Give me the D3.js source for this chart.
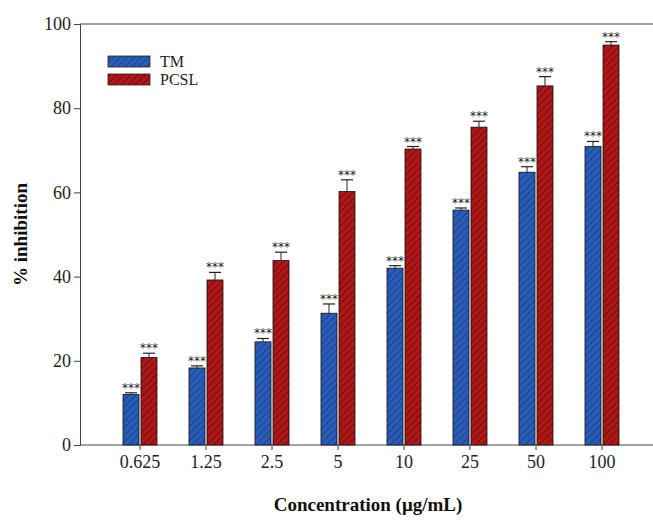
<!DOCTYPE html>
<html>
<head>
<meta charset="utf-8">
<script src="https://cdn.jsdelivr.net/npm/d3@7"></script>
<style>
  body { margin: 0; background: #fff; }
</style>
</head>
<body>
<script>
var width = 653, height = 523;
var serif = "Liberation Serif, Times New Roman, serif";

var categories = ["0.625", "1.25", "2.5", "5", "10", "25", "50", "100"];
var tmValues = [12.0, 18.3, 24.5, 31.3, 42.0, 55.8, 64.8, 70.9];
var tmErrors = [0.4, 0.5, 0.8, 2.2, 0.6, 0.5, 1.3, 1.2];
var pcslValues = [20.8, 39.2, 43.8, 60.2, 70.3, 75.5, 85.3, 95.0];
var pcslErrors = [1.0, 1.8, 2.0, 2.8, 0.6, 1.4, 2.2, 0.8];
var seriesNames = ["TM", "PCSL"];
var yTicks = [0, 20, 40, 60, 80, 100];

var margin = {left: 80, top: 24, bottom: 78};

var svg = d3.select("body")
    .append("svg")
    .attr("width", width)
    .attr("height", height)
    .attr("font-family", serif);

// hatch patterns
var defs = svg.append("defs");
function hatch(id, bg, fg) {
  var p = defs.append("pattern")
      .attr("id", id)
      .attr("patternUnits", "userSpaceOnUse")
      .attr("width", 5).attr("height", 5)
      .attr("patternTransform", "rotate(45)");
  p.append("rect").attr("width", 5).attr("height", 5).attr("fill", bg);
  p.append("line").attr("x1", 0).attr("y1", 0).attr("x2", 0).attr("y2", 5)
      .attr("stroke", fg).attr("stroke-width", 1.6);
}
hatch("hTM", "#2a5db8", "#173a7a");
hatch("hPCSL", "#b01818", "#5e0a0a");
var fills = ["url(#hTM)", "url(#hPCSL)"];

var x = d3.scaleBand()
    .domain(categories)
    .range([107, 635])
    .paddingInner(0)
    .paddingOuter(0);

var y = d3.scaleLinear()
    .domain([0, 100])
    .range([height - margin.bottom, margin.top]);

var barW = 16;

// top frame line runs off to the right edge
svg.append("line")
    .attr("x1", margin.left).attr("x2", width)
    .attr("y1", y(100)).attr("y2", y(100))
    .attr("stroke", "#444").attr("stroke-width", 1);

var yAxis = d3.axisLeft(y).tickValues(yTicks).tickSize(6).tickFormat(d3.format("d"));
var gy = svg.append("g")
    .attr("transform", "translate(" + margin.left + ",0)")
    .call(yAxis)
    .attr("font-family", serif)
    .attr("font-size", 18);
gy.select(".domain").attr("stroke", "#444");
gy.selectAll(".tick line").attr("stroke", "#444");
gy.selectAll(".tick text")
    .attr("fill", "#222")
    .attr("x", -9);

var xAxis = d3.axisBottom(x).tickSize(5).tickSizeOuter(0);
var gx = svg.append("g")
    .attr("transform", "translate(0," + y(0) + ")")
    .call(xAxis)
    .attr("font-family", serif)
    .attr("font-size", 18);
gx.select(".domain").attr("d", "M" + margin.left + ",0H" + width).attr("stroke", "#444");
gx.selectAll(".tick line").attr("stroke", "#444");
gx.selectAll(".tick text")
    .attr("fill", "#222")
    .attr("y", 10);

// bars
var series = [
  {values: tmValues, errors: tmErrors, off: -barW - 1},
  {values: pcslValues, errors: pcslErrors, off: 1}
];

series.forEach(function(s, si) {
  var g = svg.append("g");
  var data = categories.map(function(c, i) {
    return {cat: c, v: s.values[i], e: s.errors[i]};
  });
  var cx = function(d) { return x(d.cat) + x.bandwidth() / 2 + s.off; };

  g.selectAll("rect").data(data).enter().append("rect")
      .attr("x", cx)
      .attr("y", function(d) { return y(d.v); })
      .attr("width", barW)
      .attr("height", function(d) { return y(0) - y(d.v); })
      .attr("fill", fills[si])
      .attr("stroke", "#111")
      .attr("stroke-width", 0.8);

  var mid = function(d) { return cx(d) + barW / 2; };
  g.selectAll(".err").data(data).enter().append("line")
      .attr("x1", mid).attr("x2", mid)
      .attr("y1", function(d) { return y(d.v); })
      .attr("y2", function(d) { return y(d.v + d.e); })
      .attr("stroke", "#222").attr("stroke-width", 1);
  g.selectAll(".cap").data(data).enter().append("line")
      .attr("x1", function(d) { return mid(d) - 6; })
      .attr("x2", function(d) { return mid(d) + 6; })
      .attr("y1", function(d) { return y(d.v + d.e); })
      .attr("y2", function(d) { return y(d.v + d.e); })
      .attr("stroke", "#222").attr("stroke-width", 1.2);
  g.selectAll(".star").data(data).enter().append("text")
      .attr("x", mid)
      .attr("y", function(d) { return y(d.v + d.e) - 1; })
      .attr("text-anchor", "middle")
      .attr("font-size", 12)
      .attr("font-family", "DejaVu Sans")
      .attr("fill", "#222")
      .text("***");
});

// legend
var legend = svg.append("g");
seriesNames.forEach(function(n, i) {
  legend.append("rect")
      .attr("x", 108).attr("y", 56 + i * 18)
      .attr("width", 42).attr("height", 11)
      .attr("fill", fills[i])
      .attr("stroke", "#222").attr("stroke-width", 0.8);
  legend.append("text")
      .attr("x", 160).attr("y", 67 + i * 18)
      .attr("font-size", 16)
      .attr("fill", "#222")
      .text(n);
});

// axis titles
svg.append("text")
    .attr("transform", "translate(27," + y(50) + ") rotate(-90)")
    .attr("text-anchor", "middle")
    .attr("font-size", 19)
    .attr("font-weight", "bold")
    .attr("fill", "#111")
    .text("% inhibition");

svg.append("text")
    .attr("x", 368).attr("y", 511)
    .attr("text-anchor", "middle")
    .attr("font-size", 19)
    .attr("font-weight", "bold")
    .attr("fill", "#111")
    .text("Concentration (\u03bcg/mL)");
</script>
</body>
</html>
